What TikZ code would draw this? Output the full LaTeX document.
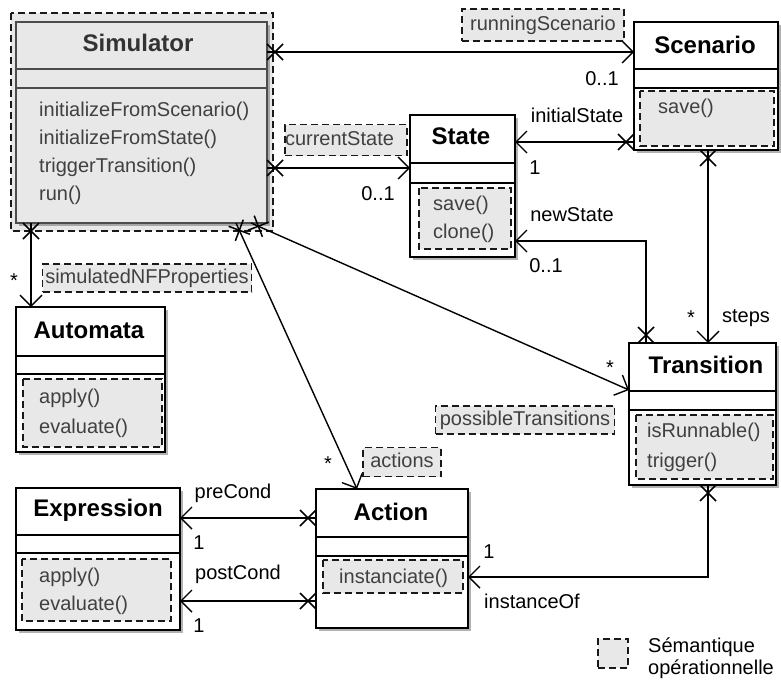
\documentclass[tikz,border=0pt]{standalone}
\usepackage{fontspec}
\setmainfont{Liberation Sans}
\usetikzlibrary{arrows.meta,shapes.misc,shadows}
\definecolor{semfill}{gray}{0.91}
\tikzset{
  cls/.style={rectangle, draw=black, line width=1.5pt, fill=white, inner sep=0pt, outer sep=0pt, anchor=north west,
    drop shadow={shadow xshift=2.5pt, shadow yshift=-2.5pt, fill=black!60, opacity=0.5}},
  simcls/.style={cls, draw=black!70, line width=2pt, fill=semfill},
  sepline/.style={line width=1.5pt},
  sem/.style={draw=black!90, dash pattern=on 7pt off 4pt, line width=1.6pt, fill=semfill},
  ttl/.style={font=\fontsize{24}{28}\selectfont\bfseries, inner sep=0pt},
  meth/.style={font=\fontsize{20}{24}\selectfont, text=black!75, anchor=west, inner sep=0pt, text height=14pt, text depth=4pt},
  lbl/.style={font=\fontsize{20}{24}\selectfont, inner sep=0pt, text height=14pt, text depth=4pt},
  rolebox/.style={sem, rectangle, font=\fontsize{20}{24}\selectfont, text=black!75, inner sep=0pt, text height=14pt, text depth=4pt},
  assoc/.style={line width=1.4pt, -{Straight Barb[length=11pt, width=22pt]}},
  xm/.style={cross out, draw, line width=1.5pt, minimum size=16pt, inner sep=0pt, outer sep=0pt, sloped, allow upside down, anchor=west, pos=0},
}
\begin{document}
\begin{tikzpicture}[x=1pt, y=-1pt]
\useasboundingbox (0,0) rectangle (781,680);

% ---------- Simulator ----------
\draw[sem] (11,13) rectangle (273,231);
\node[simcls, minimum width=251pt, minimum height=201pt] (sim) at (16,22) {};
\draw[sepline, draw=black!70] (16,69) -- (267,69) (16,88) -- (267,88);
\node[ttl, text=black!80] (simT) at (138,43) {Simulator};
\node[meth] (simM1) at (39,111) {initializeFromScenario()};
\node[meth] (simM2) at (39,139) {initializeFromState()};
\node[meth] (simM3) at (39,167) {triggerTransition()};
\node[meth] (simM4) at (39,195) {run()};

% ---------- Scenario ----------
\node[cls, minimum width=144pt, minimum height=128pt] (scen) at (634,22) {};
\draw[sepline] (634,69) -- (778,69) (634,88) -- (778,88);
\draw[sem] (640,91) rectangle (774,146);
\node[ttl] (scenT) at (705,45) {Scenario};
\node[meth] (scenM1) at (658,108) {save()};

% ---------- State ----------
\node[cls, minimum width=105pt, minimum height=142pt] (state) at (410,115) {};
\draw[sepline] (410,163) -- (515,163) (410,183) -- (515,183);
\draw[sem] (419,188) rectangle (511,249);
\node[ttl] (stateT) at (461,136) {State};
\node[meth] (stateM1) at (433,205) {save()};
\node[meth] (stateM2) at (433,233) {clone()};

% ---------- Transition ----------
\node[cls, minimum width=147pt, minimum height=142pt] (trans) at (629,343) {};
\draw[sepline] (629,391) -- (776,391) (629,410) -- (776,410);
\draw[sem] (636,415) rectangle (773,479);
\node[ttl] (transT) at (706,365) {Transition};
\node[meth] (transM1) at (647,432) {isRunnable()};
\node[meth] (transM2) at (647,462) {trigger()};

% ---------- Automata ----------
\node[cls, minimum width=149pt, minimum height=145pt] (aut) at (16,307) {};
\draw[sepline] (16,356) -- (165,356) (16,374) -- (165,374);
\draw[sem] (23,379) rectangle (162,447);
\node[ttl] (autT) at (89,330) {Automata};
\node[meth] (autM1) at (39,398) {apply()};
\node[meth] (autM2) at (39,428) {evaluate()};

% ---------- Expression ----------
\node[cls, minimum width=164pt, minimum height=142pt] (expr) at (16,488) {};
\draw[sepline] (16,535) -- (180,535) (16,553) -- (180,553);
\draw[sem] (22,559) rectangle (171,621);
\node[ttl] (exprT) at (98,510) {Expression};
\node[meth] (exprM1) at (39,577) {apply()};
\node[meth] (exprM2) at (39,605) {evaluate()};

% ---------- Action ----------
\node[cls, minimum width=152pt, minimum height=139pt] (act) at (316,489) {};
\draw[sepline] (316,537) -- (468,537) (316,556) -- (468,556);
\draw[sem] (323,560) rectangle (463,593);
\node[ttl] (actT) at (391,512) {Action};
\node[meth] (actM1) at (339,578) {instanciate()};

% ---------- Connectors ----------
% runningScenario
\draw[assoc] ([yshift=-30pt]sim.north east) -- node[xm] (x1) {} ([yshift=-30pt]scen.north west);
\node[rolebox, minimum width=162pt, minimum height=32pt] (lRS) at (543,25) {runningScenario};
\node[lbl] (m1) at (602,80) {0..1};

% currentState
\draw[assoc] ([yshift=-146pt]sim.north east) -- node[xm] (x2) {} ([yshift=-53pt]state.north west);
\node[rolebox, text width=122pt, align=left, minimum height=31pt] (lCS) at (346,140) {currentState};
\node[lbl] (m2) at (378,195) {0..1};

% initialState
\draw[assoc] ([yshift=-120pt]scen.north west) -- node[xm] (x3) {} ([yshift=-27pt]state.north east);
\node[lbl] (lIS) at (577,117) {initialState};
\node[lbl] (m3) at (535,169) {1};

% newState
\draw[assoc] ([xshift=17pt]trans.north west) |- node[xm] (x4) {} ([yshift=-126pt]state.north east);
\node[lbl] (lNS) at (572,216) {newState};
\node[lbl] (m4) at (546,267) {0..1};

% steps
\draw[assoc] ([xshift=74pt]scen.south west) -- node[xm] (x5) {} ([xshift=79pt]trans.north west);
\node[lbl] (m5) at (691,319) {*};
\node[lbl] (lST) at (746,317) {steps};

% instanceOf
\draw[assoc] ([xshift=79pt]trans.south west) |- node[xm] (x6) {} ([yshift=-88pt]act.north east);
\node[lbl] (m6) at (489,553) {1};
\node[lbl] (lIO) at (532,603) {instanceOf};

% preCond / postCond
\draw[assoc] ([yshift=-29pt]act.north west) -- node[xm] (x7) {} ([yshift=-30pt]expr.north east);
\node[lbl] (lPre) at (233,493) {preCond};
\node[lbl] (m7) at (199,544) {1};
\draw[assoc] ([yshift=-112pt]act.north west) -- node[xm] (x8) {} ([yshift=-113pt]expr.north east);
\node[lbl] (lPost) at (238,574) {postCond};
\node[lbl] (m8) at (199,627) {1};

% simulatedNFProperties
\draw[assoc] ([xshift=15pt]sim.south west) -- node[xm] (x9) {} ([xshift=15pt]aut.north west);
\node[rolebox, minimum width=209pt, minimum height=28pt] (lNF) at (147,278) {simulatedNFProperties};
\node[lbl] (m9) at (14,282) {*};

% actions
\draw[assoc] ([xshift=220pt]sim.south west) -- node[xm] (x10) {} ([xshift=41pt]act.north west);
\node[rolebox, minimum width=78pt, minimum height=29pt] (lAC) at (402,462) {actions};
\node[lbl] (m10) at (328,465) {*};

% possibleTransitions
\draw[assoc] ([xshift=235pt]sim.south west) -- node[xm] (x11) {} ([yshift=-47pt]trans.north west);
\node[rolebox, minimum width=179pt, minimum height=28pt] (lPT) at (525,420) {possibleTransitions};
\node[lbl] (m11) at (610,369) {*};

% ---------- Legend ----------
\node[sem, rectangle, minimum width=30pt, minimum height=29pt, inner sep=0pt, anchor=north west] (leg) at (597,638) {};
\node[lbl, anchor=west] (legT1) at (648,647) {Sémantique};
\node[lbl, anchor=west] (legT2) at (648,669) {opérationnelle};
\end{tikzpicture}
\end{document}
